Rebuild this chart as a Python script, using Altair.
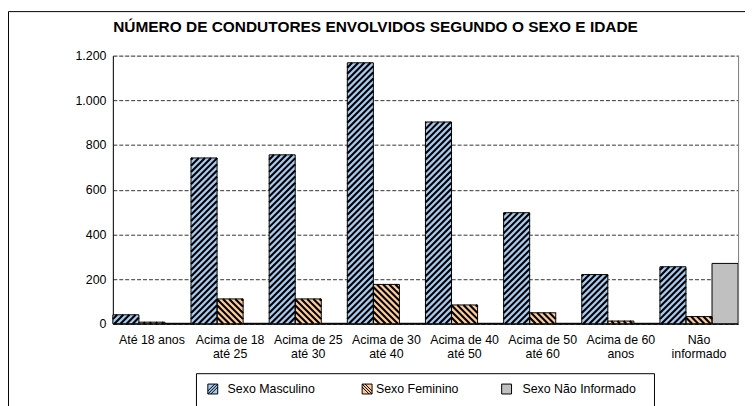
import altair as alt
import pandas as pd

# ---------------- data ----------------
categories = [
    "Até 18 anos",
    "Acima de 18|até 25",
    "Acima de 25|até 30",
    "Acima de 30|até 40",
    "Acima de 40|até 50",
    "Acima de 50|até 60",
    "Acima de 60|anos",
    "Não|informado",
]
series = ["Sexo Masculino", "Sexo Feminino", "Sexo Não Informado"]
masculino = [40, 742, 756, 1168, 903, 497, 220, 255]
feminino = [7, 111, 111, 176, 84, 49, 12, 32]
nao_informado = [2, 2, 2, 2, 2, 2, 2, 270]
colors = ["#A6CAF0", "#FFCC99", "#C0C0C0"]
y_ticks = [0, 200, 400, 600, 800, 1000, 1200]
title_text = "NÚMERO DE CONDUTORES ENVOLVIDOS SEGUNDO O SEXO E IDADE"

FONT = "Liberation Sans"
W, H = 632, 271
YMAX = 1200

rows = []
for s, vals in zip(series, [masculino, feminino, nao_informado]):
    for c, v in zip(categories, vals):
        rows.append({"cat": c, "serie": s, "valor": v})
df = pd.DataFrame(rows)

# ---------------- hatch stripes (derived from the values) ----------------
n = len(categories)
px_x = W / n
px_y = H / YMAX
bw = px_x / 3
P = 6.2
stripes = []
for i in range(n):
    for j, (vals, direction) in enumerate([(masculino, 1), (feminino, -1)]):
        htop = vals[i] * px_y
        left = (i + j / 3) * px_x
        if direction == 1:
            c = -bw
            while c < htop:
                lo, hi = max(0.0, -c), min(bw, htop - c)
                if hi > lo:
                    stripes.append({"x1": (left + lo) / px_x, "y1": (lo + c) / px_y,
                                    "x2": (left + hi) / px_x, "y2": (hi + c) / px_y})
                c += P
        else:
            c = 0.0
            while c < htop + bw:
                lo, hi = max(0.0, c - htop), min(bw, c)
                if hi > lo:
                    stripes.append({"x1": (left + lo) / px_x, "y1": (c - lo) / px_y,
                                    "x2": (left + hi) / px_x, "y2": (c - hi) / px_y})
                c += P
sdf = pd.DataFrame(stripes)

yscale = alt.Scale(domain=[0, YMAX], nice=False)
xband = alt.Scale(paddingInner=0, paddingOuter=0)
color_scale = alt.Scale(domain=series, range=colors)

masc_path = "M-1,-1H1V1H-1Z M-1,1L1,-1 M-1,0.4L0.4,-1 M-0.4,1L1,-0.4"
fem_path = "M-1,-1H1V1H-1Z M-1,-1L1,1 M-0.4,-1L1,0.4 M-1,-0.4L0.4,1"
plain_path = "M-1,-1H1V1H-1Z"
shapes = [masc_path, fem_path, plain_path]

bars = alt.Chart(df).mark_bar(strokeWidth=0).encode(
    x=alt.X("cat:N", sort=categories, scale=xband, title=None,
            axis=alt.Axis(labelExpr="split(datum.label, '|')", labelAngle=0, ticks=False,
                          domainColor="black", labelFont=FONT, labelFontSize=12.5,
                          labelColor="black", labelPadding=10, labelLineHeight=14,
                          grid=False, labelBaseline="top")),
    xOffset=alt.XOffset("serie:N", sort=series, scale=xband),
    y=alt.Y("valor:Q", scale=yscale, title=None,
            axis=alt.Axis(values=y_ticks,
                          labelExpr="replace(format(datum.value, ','), ',', '.')",
                          ticks=False, domainColor="black", grid=True,
                          gridDash=[4, 2], gridColor="#333333", gridWidth=1,
                          labelFont=FONT, labelFontSize=12.5, labelColor="black",
                          labelPadding=7)),
    color=alt.Color("serie:N", sort=series, scale=color_scale, legend=None),
)

hatch = alt.Chart(sdf).mark_rule(stroke="black", strokeWidth=2.1, strokeCap="butt").encode(
    x=alt.X("x1:Q", scale=alt.Scale(domain=[0, n], nice=False, zero=False), axis=None),
    x2="x2:Q",
    y=alt.Y("y1:Q", scale=yscale, title=None),
    y2="y2:Q",
)

outline = alt.Chart(df).mark_bar(fillOpacity=0, stroke="black", strokeWidth=1).encode(
    x=alt.X("cat:N", sort=categories, scale=xband, axis=None),
    xOffset=alt.XOffset("serie:N", sort=series, scale=xband),
    y=alt.Y("valor:Q", scale=yscale, title=None),
)

frame = alt.Chart(alt.Data(values=[{}])).mark_rect(
    fillOpacity=0, stroke="black", strokeWidth=1
).encode(x=alt.value(-105.5), x2=alt.value(700), y=alt.value(-44.5), y2=alt.value(400))

right_edge = alt.Chart(alt.Data(values=[{}])).mark_rule(
    stroke="#808080", strokeWidth=1
).encode(x=alt.value(632.5), y=alt.value(0), y2=alt.value(H))

title = alt.Chart(alt.Data(values=[{}])).mark_text(
    text=title_text, font=FONT, fontSize=15.6, fontWeight="bold", color="black",
    align="center", baseline="alphabetic"
).encode(x=alt.value(265.5), y=alt.value(-24))

# ---------------- legend (hatched symbols) ----------------
leg_df = pd.DataFrame({"serie": series, "pos": [0, 1, 2]})
leg_symbol_x = [101, 257, 398]
leg_label_x = [116, 266, 414]
leg_df["sx"] = leg_symbol_x
leg_df["lx"] = leg_label_x
pix = alt.Scale(domain=[0, W], range=[0, W], nice=False, zero=False)

leg_box = alt.Chart(alt.Data(values=[{}])).mark_rect(
    fill="white", stroke="black", strokeWidth=1
).encode(x=alt.value(84.5), x2=alt.value(547.5), y=alt.value(321.5), y2=alt.value(400))

leg_sym = alt.Chart(leg_df).mark_point(
    filled=True, stroke="black", strokeWidth=1, size=100, opacity=1
).encode(
    x=alt.X("sx:Q", scale=pix, axis=None),
    y=alt.value(337),
    color=alt.Color("serie:N", sort=series, scale=color_scale, legend=None),
    shape=alt.Shape("serie:N", sort=series,
                    scale=alt.Scale(domain=series, range=shapes), legend=None),
)

leg_txt = alt.Chart(leg_df).mark_text(
    font=FONT, fontSize=12.5, color="black", align="left", baseline="middle"
).encode(
    x=alt.X("lx:Q", scale=pix, axis=None),
    y=alt.value(337),
    text="serie:N",
)

chart = alt.layer(
    frame, bars, hatch, outline, right_edge, title, leg_box, leg_sym, leg_txt
).resolve_scale(
    x="independent", xOffset="independent"
).properties(
    width=W, height=H,
    padding={"left": 106, "top": 46, "right": 7, "bottom": 81},
    autosize=alt.AutoSizeParams(type="none"),
).configure_view(stroke=None).configure(background="white")

chart.save("out.html", embed_options={"renderer": "svg", "actions": False})
